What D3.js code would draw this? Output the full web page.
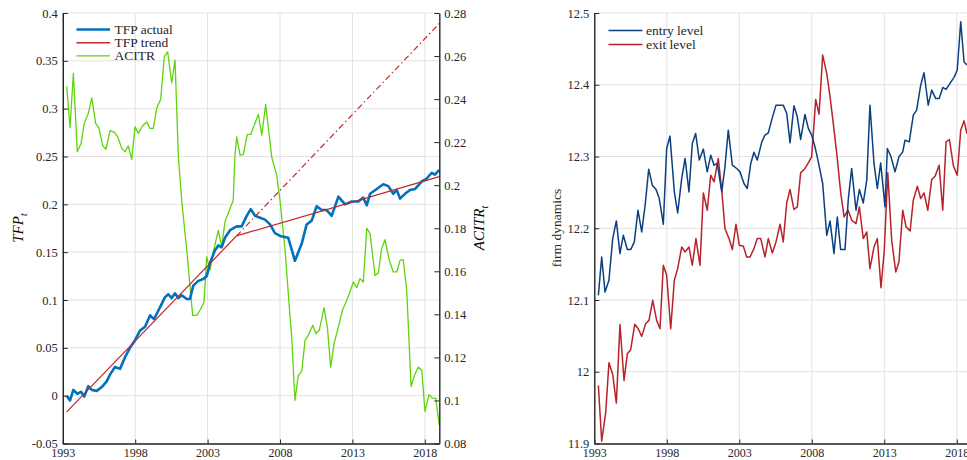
<!DOCTYPE html>
<html><head><meta charset="utf-8">
<script src="https://cdn.jsdelivr.net/npm/d3@7"></script>
<style>
html,body{margin:0;padding:0;background:#fff;}
svg{display:block;font-family:"Liberation Serif","Times New Roman",serif;}
.tick text{font-size:12.5px;fill:#262626;}
</style></head><body>
<svg id="c" width="967" height="460"></svg>
<script>
// ---------- data ----------
const yearTicks = [1993, 1998, 2003, 2008, 2013, 2018];
const tfpTicks = [-0.05, 0, 0.05, 0.1, 0.15, 0.2, 0.25, 0.3, 0.35, 0.4];
const acitrTicks = [0.08, 0.1, 0.12, 0.14, 0.16, 0.18, 0.2, 0.22, 0.24, 0.26, 0.28];
const firmTicks = [11.9, 12, 12.1, 12.2, 12.3, 12.4, 12.5];

const tfpYears = [1993.27,1993.50,1993.73,1994.00,1994.26,1994.48,1994.76,1995.00,1995.34,1995.69,1996.03,1996.26,1996.60,1996.95,1997.29,1997.64,1997.99,1998.33,1998.68,1999.03,1999.30,1999.60,1999.83,2000.06,2000.29,2000.52,2000.75,2000.98,2001.21,2001.56,2001.78,2002.01,2002.36,2002.70,2002.94,2003.17,2003.51,2003.74,2003.97,2004.20,2004.55,2005.01,2005.35,2005.70,2005.98,2006.27,2006.62,2006.96,2007.31,2007.65,2008.00,2008.57,2009.03,2009.50,2009.84,2010.19,2010.53,2010.88,2011.22,2011.57,2012.03,2012.49,2012.95,2013.41,2013.75,2013.99,2014.22,2014.68,2015.13,2015.48,2015.82,2016.06,2016.29,2016.63,2016.98,2017.32,2017.79,2018.13,2018.48,2018.70,2019.00];
const tfpActual = [0,-0.005,0.006,0.002,0.004,-0.001,0.010,0.006,0.005,0.009,0.015,0.022,0.030,0.028,0.040,0.050,0.058,0.068,0.072,0.084,0.080,0.089,0.096,0.103,0.106,0.102,0.107,0.102,0.105,0.101,0.101,0.115,0.120,0.122,0.125,0.139,0.152,0.157,0.155,0.165,0.173,0.177,0.177,0.188,0.195,0.188,0.186,0.184,0.179,0.170,0.167,0.165,0.141,0.159,0.179,0.183,0.198,0.194,0.194,0.188,0.208,0.200,0.203,0.203,0.207,0.199,0.211,0.216,0.221,0.219,0.211,0.215,0.206,0.211,0.215,0.216,0.224,0.227,0.233,0.231,0.236];

const trendYears = [1993.27, 2005.0, 2019.0];
const trendValues = [-0.017, 0.167, 0.229];
const trendExtYears = [2005.0, 2019.0];
const trendExtValues = [0.167, 0.389];

const acitrYears = [1993.27,1993.50,1993.73,1994.00,1994.26,1994.48,1994.76,1995.00,1995.27,1995.50,1995.76,1995.98,1996.26,1996.54,1996.79,1997.07,1997.30,1997.52,1997.76,1997.99,1998.21,1998.52,1998.79,1999.02,1999.25,1999.48,1999.76,2000.01,2000.24,2000.52,2000.75,2000.98,2001.21,2001.56,2001.97,2002.25,2002.47,2002.75,2002.94,2003.17,2003.39,2003.74,2003.97,2004.20,2004.77,2004.89,2005.01,2005.24,2005.47,2005.74,2005.98,2006.50,2006.74,2007.01,2007.43,2007.77,2008.00,2008.35,2008.64,2008.81,2009.03,2009.26,2009.50,2009.73,2009.95,2010.26,2010.48,2010.71,2011.04,2011.27,2011.50,2011.73,2012.03,2012.31,2012.61,2013.07,2013.30,2013.52,2013.75,2013.99,2014.22,2014.56,2014.79,2015.02,2015.25,2015.55,2015.82,2016.06,2016.29,2016.51,2016.75,2017.05,2017.28,2017.55,2017.79,2018.01,2018.29,2018.52,2018.75,2019.00];
const acitrValues = [0.246,0.2267,0.252,0.2155,0.2194,0.2287,0.2333,0.2406,0.2287,0.2264,0.2183,0.2167,0.2253,0.2247,0.2225,0.2171,0.2155,0.2183,0.212,0.2271,0.2241,0.2276,0.2294,0.2264,0.2264,0.2357,0.2399,0.2597,0.262,0.2476,0.2581,0.2132,0.193,0.1698,0.1395,0.1395,0.1419,0.1457,0.1667,0.1605,0.169,0.179,0.1713,0.183,0.193,0.214,0.2225,0.214,0.2143,0.2236,0.2236,0.2329,0.2233,0.2375,0.213,0.2047,0.193,0.1698,0.1434,0.1294,0.100,0.1116,0.1136,0.1279,0.1302,0.1349,0.131,0.1326,0.1431,0.1341,0.1155,0.1264,0.1341,0.1419,0.1465,0.155,0.1524,0.1566,0.155,0.180,0.1775,0.1581,0.1592,0.1706,0.1747,0.1651,0.1597,0.1597,0.1651,0.1654,0.1512,0.1065,0.1116,0.1155,0.114,0.0949,0.1027,0.1011,0.1011,0.0884];

const entryYears = [1993.28,1993.51,1993.74,1994.01,1994.27,1994.52,1994.77,1995.00,1995.28,1995.51,1995.76,1996.01,1996.27,1996.52,1996.75,1997.00,1997.26,1997.48,1997.76,1997.99,1998.22,1998.52,1998.75,1999.03,1999.26,1999.53,1999.76,1999.99,2000.24,2000.52,2000.79,2001.03,2001.26,2001.48,2001.79,2002.01,2002.24,2002.52,2002.82,2003.05,2003.32,2003.55,2003.79,2004.01,2004.24,2004.55,2004.77,2005.00,2005.23,2005.53,2005.81,2006.03,2006.27,2006.50,2006.77,2007.00,2007.23,2007.53,2007.76,2007.99,2008.22,2008.45,2008.75,2009.03,2009.26,2009.53,2009.76,2009.99,2010.29,2010.52,2010.75,2011.05,2011.28,2011.55,2011.79,2012.01,2012.29,2012.52,2012.75,2013.05,2013.21,2013.46,2013.74,2014.01,2014.27,2014.43,2014.72,2015.00,2015.23,2015.51,2015.74,2016.03,2016.27,2016.54,2016.79,2017.03,2017.26,2017.53,2017.81,2018.03,2018.27,2018.50,2018.70];
const entryLevel = [12.1065,12.160,12.111,12.1275,12.1856,12.2102,12.1647,12.1902,12.1703,12.1703,12.181,12.2251,12.1949,12.2345,12.2823,12.260,12.254,12.2414,12.2056,12.3112,12.3284,12.2507,12.2214,12.2694,12.2973,12.2507,12.3182,12.3321,12.295,12.3103,12.2786,12.3019,12.2879,12.2903,12.2507,12.2856,12.3367,12.2879,12.2833,12.2786,12.2624,12.2554,12.2903,12.306,12.295,12.3204,12.3298,12.333,12.3507,12.3716,12.3716,12.3716,12.360,12.319,12.3707,12.3553,12.3238,12.3587,12.3391,12.3298,12.3135,12.2926,12.2624,12.1902,12.2102,12.1647,12.2158,12.1703,12.1703,12.2414,12.2833,12.2251,12.254,12.2353,12.267,12.3716,12.2903,12.2554,12.2911,12.2298,12.3112,12.2996,12.2786,12.2996,12.3065,12.3228,12.3204,12.3577,12.3647,12.3995,12.4167,12.3716,12.3926,12.381,12.381,12.3963,12.3935,12.4019,12.4103,12.4205,12.4879,12.432,12.4274];

const exitYears = [1993.28,1993.51,1993.79,1994.01,1994.27,1994.52,1994.77,1995.05,1995.28,1995.51,1995.79,1996.03,1996.27,1996.54,1996.77,1997.03,1997.30,1997.53,1997.76,1997.99,1998.27,1998.52,1998.75,1999.03,1999.26,1999.53,1999.76,2000.01,2000.29,2000.52,2000.79,2001.03,2001.26,2001.55,2001.79,2002.01,2002.29,2002.52,2002.77,2003.00,2003.28,2003.51,2003.74,2004.01,2004.24,2004.48,2004.77,2005.00,2005.28,2005.53,2005.81,2006.03,2006.27,2006.50,2006.77,2007.00,2007.23,2007.53,2007.76,2007.99,2008.27,2008.50,2008.75,2009.03,2009.26,2009.48,2009.72,2010.00,2010.23,2010.50,2010.76,2011.05,2011.28,2011.55,2011.79,2012.01,2012.29,2012.52,2012.77,2013.00,2013.24,2013.51,2013.79,2014.01,2014.27,2014.50,2014.78,2015.00,2015.28,2015.51,2015.74,2016.00,2016.27,2016.50,2016.78,2017.03,2017.26,2017.49,2017.77,2018.03,2018.27,2018.50,2018.70];
const exitLevel = [11.981,11.9033,11.9437,12.0126,11.9963,11.9563,12.0657,11.9879,12.0252,12.0307,12.0661,12.060,12.0493,12.067,12.0716,12.0995,12.0716,12.060,12.1484,12.1344,12.060,12.1275,12.1437,12.1739,12.167,12.1739,12.1484,12.1856,12.1484,12.2493,12.2251,12.274,12.2646,12.2973,12.253,12.1996,12.1856,12.1703,12.2056,12.1763,12.1749,12.160,12.160,12.1716,12.1856,12.1856,12.160,12.1856,12.1656,12.1809,12.2056,12.1809,12.2353,12.254,12.2261,12.2298,12.2772,12.2833,12.2911,12.2995,12.3796,12.3591,12.4414,12.4159,12.3832,12.3461,12.3043,12.2484,12.2158,12.2251,12.2112,12.2065,12.2298,12.1856,12.1949,12.1437,12.1739,12.1856,12.1172,12.1693,12.2772,12.1833,12.139,12.153,12.2251,12.2019,12.1963,12.2391,12.2586,12.2414,12.2493,12.2251,12.268,12.2726,12.2879,12.2251,12.3204,12.3237,12.2866,12.274,12.3367,12.3497,12.3321];

// ---------- drawing ----------
const svg = d3.select("#c");
svg.append("rect").attr("width",967).attr("height",460).attr("fill","#fff");

const TOP = 13, BOT = 443.5;
const gridColor = "#e2e2e2", axisColor = "#262626";
const fmt = d => String(+d.toFixed(2));

function grid(g, x, y, xTicks, yTicks, x0, x1) {
  g.selectAll(null).data(xTicks).join("line")
    .attr("x1", d => x(d)).attr("x2", d => x(d)).attr("y1", TOP).attr("y2", BOT)
    .attr("stroke", gridColor).attr("stroke-width", 1);
  g.selectAll(null).data(yTicks).join("line")
    .attr("x1", x0).attr("x2", x1).attr("y1", d => y(d)).attr("y2", d => y(d))
    .attr("stroke", gridColor).attr("stroke-width", 1);
}
function styleAxis(g, size) {
  g.select(".domain").attr("stroke", axisColor).attr("stroke-width", 1.4);
  g.selectAll(".tick line").attr("stroke", axisColor).attr("stroke-width", 1);
  g.selectAll(".tick text").attr("fill", axisColor).style("font-size", (size || 12.5) + "px")
    .style("font-family",'"Liberation Serif",serif');
}

// ===== Left panel =====
const xL = d3.scaleLinear().domain([1993, 2019]).range([62.8, 439.3]);
const yL = d3.scaleLinear().domain([-0.05, 0.4]).range([BOT, TOP]);
const yR = d3.scaleLinear().domain([0.08, 0.28]).range([BOT, TOP]);

grid(svg.append("g"), xL, yL, yearTicks, tfpTicks, 62.8, 439.3);

const lineL = d3.line().x(d => xL(d[0])).y(d => yL(d[1]));
const lineR = d3.line().x(d => xL(d[0])).y(d => yR(d[1]));

const green = "#5fd40a", blue = "#0072bd", red = "#c0282d";

svg.append("path").datum(d3.zip(acitrYears, acitrValues)).attr("d", lineR)
  .attr("fill","none").attr("stroke",green).attr("stroke-width",1.3).attr("stroke-linejoin","round");
svg.append("path").datum(d3.zip(tfpYears, tfpActual)).attr("d", lineL)
  .attr("fill","none").attr("stroke",blue).attr("stroke-width",2.6).attr("stroke-linejoin","round");
svg.append("path").datum(d3.zip(trendExtYears, trendExtValues)).attr("d", lineL)
  .attr("fill","none").attr("stroke",red).attr("stroke-width",1.2).attr("stroke-dasharray","6,3,1.5,3");
svg.append("path").datum(d3.zip(trendYears, trendValues)).attr("d", lineL)
  .attr("fill","none").attr("stroke",red).attr("stroke-width",1.2);

const axL = svg.append("g").attr("transform","translate(62.8,0)")
  .call(d3.axisLeft(yL).tickValues(tfpTicks).tickFormat(fmt).tickSize(-5).tickSizeOuter(0).tickPadding(5));
styleAxis(axL);
const axR = svg.append("g").attr("transform","translate(439.3,0)")
  .call(d3.axisRight(yR).tickValues(acitrTicks).tickFormat(fmt).tickSize(-5).tickSizeOuter(0).tickPadding(5));
styleAxis(axR);
const axB = svg.append("g").attr("transform",`translate(0,${BOT})`)
  .call(d3.axisBottom(xL).tickValues(yearTicks).tickFormat(d3.format("d")).tickSize(-4).tickSizeOuter(0).tickPadding(4.5));
styleAxis(axB, 12);

// axis titles
svg.append("text").attr("transform","translate(23,228) rotate(-90)").attr("text-anchor","middle")
  .style("font-size","15px").style("font-style","italic").attr("fill","#000")
  .html('TFP<tspan dy="4" font-size="10px">t</tspan>');
svg.append("text").attr("transform","translate(484,228) rotate(-90)").attr("text-anchor","middle")
  .style("font-size","15px").style("font-style","italic").attr("fill","#000")
  .html('ACITR<tspan dy="4" font-size="10px">t</tspan>');

// legend left
const legL = [["TFP actual", blue, 2.6], ["TFP trend", red, 1.5], ["ACITR", green, 1.3]];
legL.forEach((d, i) => {
  const yy = 29.5 + i * 13.2;
  svg.append("line").attr("x1",76.5).attr("x2",110).attr("y1",yy).attr("y2",yy)
    .attr("stroke",d[1]).attr("stroke-width",d[2]);
  svg.append("text").attr("x",114.5).attr("y",yy+4.3).text(d[0])
    .style("font-size","13.5px").attr("fill","#262626");
});

// ===== Right panel =====
const x2 = d3.scaleLinear().domain([1993, 2019]).range([594.3, 971.3]);
const y2 = d3.scaleLinear().domain([11.9, 12.5]).range([BOT, TOP]);
grid(svg.append("g"), x2, y2, yearTicks, firmTicks, 594.3, 971.3);

const line2 = d3.line().x(d => x2(d[0])).y(d => y2(d[1]));
const navy = "#0b3f7f", dred = "#b8222b";
svg.append("path").datum(d3.zip(exitYears, exitLevel)).attr("d", line2)
  .attr("fill","none").attr("stroke",dred).attr("stroke-width",1.5).attr("stroke-linejoin","round");
svg.append("path").datum(d3.zip(entryYears, entryLevel)).attr("d", line2)
  .attr("fill","none").attr("stroke",navy).attr("stroke-width",1.5).attr("stroke-linejoin","round");

const ax2 = svg.append("g").attr("transform","translate(594.3,0)")
  .call(d3.axisLeft(y2).tickValues(firmTicks).tickFormat(d => String(+d.toFixed(1))).tickSize(-5).tickSizeOuter(0).tickPadding(5));
styleAxis(ax2);
const ax2b = svg.append("g").attr("transform",`translate(0,${BOT})`)
  .call(d3.axisBottom(x2).tickValues(yearTicks).tickFormat(d3.format("d")).tickSize(-4).tickSizeOuter(0).tickPadding(4.5));
styleAxis(ax2b, 12);

svg.append("text").attr("transform","translate(561,228) rotate(-90)").attr("text-anchor","middle")
  .style("font-size","13.5px").attr("fill","#262626").text("firm dynamics");

const legR = [["entry level", navy], ["exit level", dred]];
legR.forEach((d, i) => {
  const yy = 30.5 + i * 14;
  svg.append("line").attr("x1",608.5).attr("x2",642.5).attr("y1",yy).attr("y2",yy)
    .attr("stroke",d[1]).attr("stroke-width",1.5);
  svg.append("text").attr("x",646).attr("y",yy+4.3).text(d[0])
    .style("font-size","13.5px").attr("fill","#262626");
});
</script>
</body></html>
